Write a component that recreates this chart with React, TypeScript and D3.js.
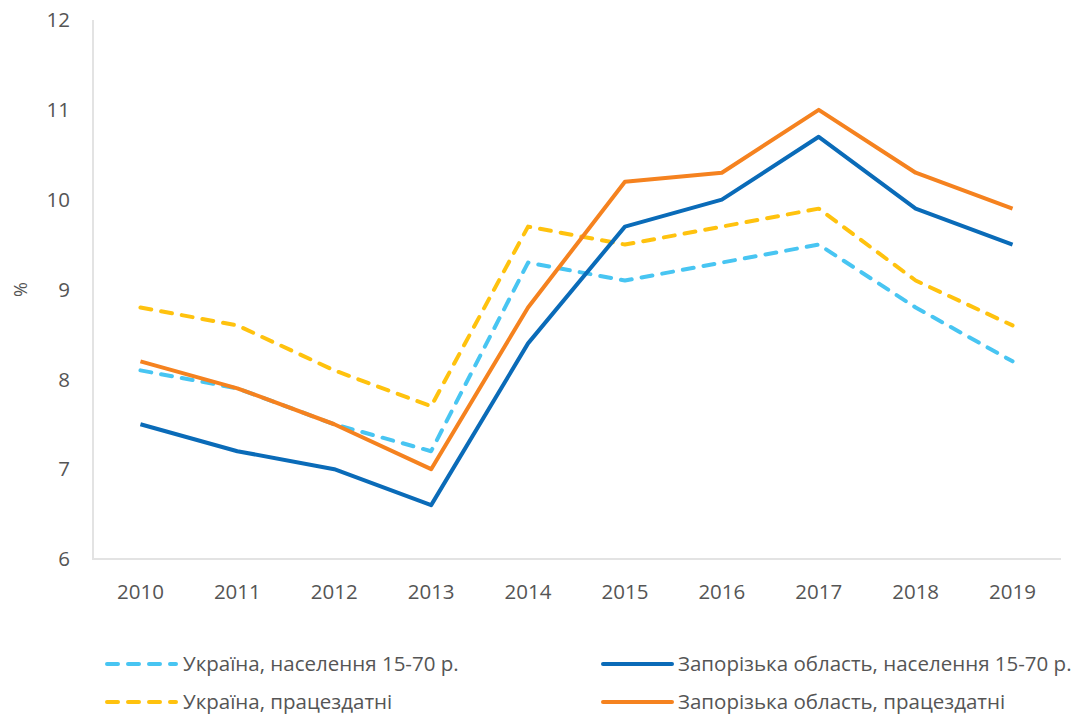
import React from "react";
import * as d3 from "d3";

const years = ["2010","2011","2012","2013","2014","2015","2016","2017","2018","2019"];
const ukrPop = [8.1, 7.9, 7.5, 7.2, 9.3, 9.1, 9.3, 9.5, 8.8, 8.2];
const zapPop = [7.5, 7.2, 7.0, 6.6, 8.4, 9.7, 10.0, 10.7, 9.9, 9.5];
const ukrWork = [8.8, 8.6, 8.1, 7.7, 9.7, 9.5, 9.7, 9.9, 9.1, 8.6];
const zapWork = [8.2, 7.9, 7.5, 7.0, 8.8, 10.2, 10.3, 11.0, 10.3, 9.9];
const yTicks = [6, 7, 8, 9, 10, 11, 12];

const seriesNames = [
  "Україна, населення 15-70 р.",
  "Запорізька область, населення 15-70 р.",
  "Україна, працездатні",
  "Запорізька область, працездатні",
];

export default function App() {
  const W = 1074, H = 715;
  const x = d3.scaleBand<string>().domain(years).range([92, 1061]).padding(0);
  const y = d3.scaleLinear().domain([6, 12]).range([559, 20]);
  const cx = (d: string) => (x(d) as number) + x.bandwidth() / 2;
  const line = d3.line<number>().x((_, i) => cx(years[i])).y((v) => y(v));
  const font = "'Open Sans', sans-serif";
  const text = "#555555";
  const fs = 20.5;

  const series = [
    { name: seriesNames[0], data: ukrPop, color: "#48C5F2", dash: "11 10" },
    { name: seriesNames[1], data: zapPop, color: "#0A6BB8", dash: null },
    { name: seriesNames[2], data: ukrWork, color: "#FFC20E", dash: "11 10" },
    { name: seriesNames[3], data: zapWork, color: "#F5821F", dash: null },
  ];
  const drawOrder = [2, 0, 1, 3];
  const legendPos = [
    { x: 105, y: 664, tx: 183 },
    { x: 601, y: 664, tx: 678 },
    { x: 105, y: 702, tx: 183 },
    { x: 601, y: 702, tx: 678 },
  ];

  return (
    <svg width={W} height={H} style={{ position: "absolute", left: 0, top: 0 }} fontFamily={font}>
      <rect width={W} height={H} fill="#fff" />
      <line x1={93} x2={93} y1={y(12)} y2={y(6)} stroke="#e3e3e3" strokeWidth={2} />
      <line x1={92} x2={x.range()[1]} y1={y(6)} y2={y(6)} stroke="#e3e3e3" strokeWidth={2} />
      {yTicks.map((t) => (
        <text key={t} x={70} y={y(t)} dy="0.35em" textAnchor="end" fontSize={fs} fill={text}>
          {t}
        </text>
      ))}
      <text transform={`translate(21,${y(9)}) rotate(-90)`} textAnchor="middle" dy="0.35em" fontSize={18} fill={text}>
        %
      </text>
      {years.map((yr) => (
        <text key={yr} x={cx(yr)} y={592} dy="0.35em" textAnchor="middle" fontSize={fs} fill={text}>
          {yr}
        </text>
      ))}
      {drawOrder.map((i) => {
        const s = series[i];
        return (
          <path
            key={s.name}
            d={line(s.data) as string}
            fill="none"
            stroke={s.color}
            strokeWidth={4}
            strokeDasharray={s.dash ?? undefined}
            strokeLinecap={s.dash ? "round" : "butt"}
            strokeLinejoin="round"
          />
        );
      })}
      {series.map((s, i) => {
        const p = legendPos[i];
        return (
          <g key={s.name}>
            <line
              x1={p.x + 2}
              x2={p.x + 71}
              y1={p.y}
              y2={p.y}
              stroke={s.color}
              strokeWidth={4}
              strokeLinecap="round"
              strokeDasharray={s.dash ?? undefined}
            />
            <text x={p.tx} y={p.y} dy="0.35em" fontSize={fs} fill={text}>
              {s.name}
            </text>
          </g>
        );
      })}
    </svg>
  );
}
